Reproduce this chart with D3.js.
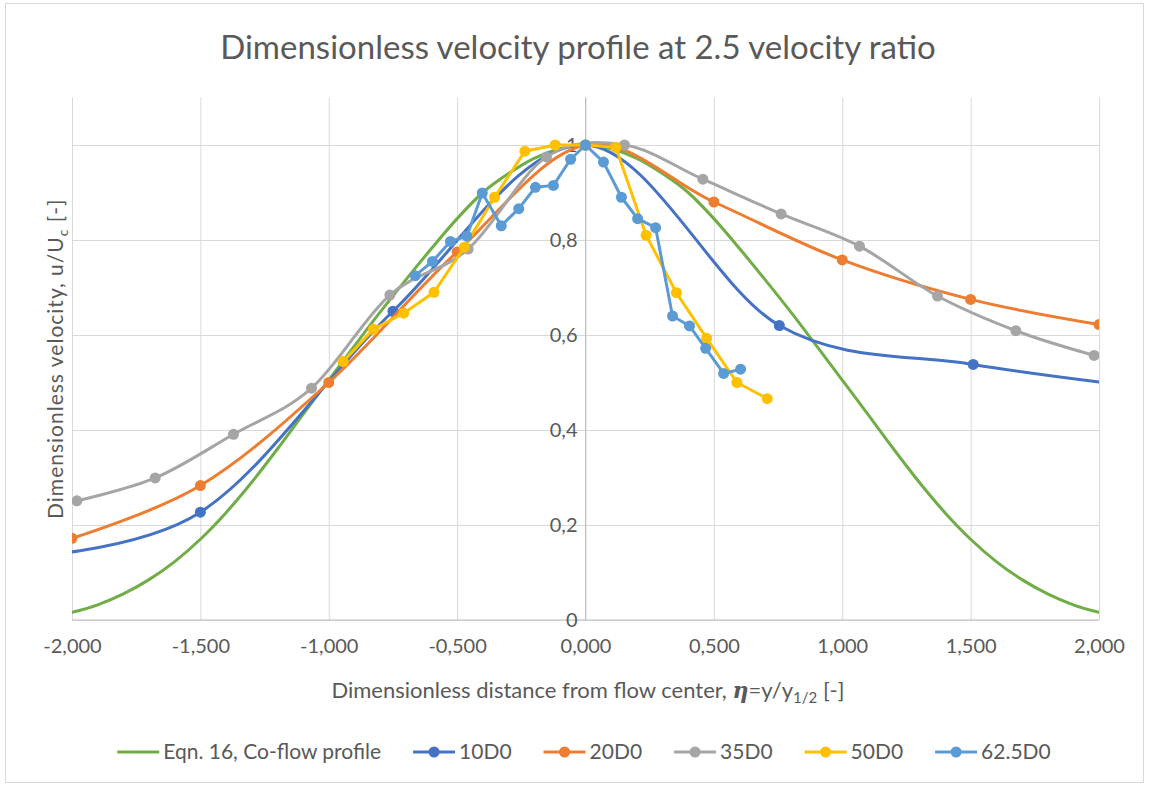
<!DOCTYPE html>
<html>
<head>
<meta charset="utf-8">
<script src="https://cdn.jsdelivr.net/npm/d3@7"></script>
<style>
  html, body { margin: 0; padding: 0; background: #fff; }
  svg text { font-family: Lato, "Open Sans", "Liberation Sans", sans-serif; fill: #595959; }
</style>
</head>
<body>
<svg id="chart" width="1149" height="788"></svg>
<script>
// Axis ticks
const xTicks = [-2, -1.5, -1, -0.5, 0, 0.5, 1, 1.5, 2];
const xTickLabels = ["-2,000", "-1,500", "-1,000", "-0,500", "0,000", "0,500", "1,000", "1,500", "2,000"];
const yTicks = [0, 0.2, 0.4, 0.6, 0.8, 1];
const yTickLabels = ["0", "0,2", "0,4", "0,6", "0,8", "1"];

// Eqn. 16, co-flow profile
const eqnX = [-2, -1.9, -1.8, -1.7, -1.6, -1.5, -1.4, -1.3, -1.2, -1.1, -1, -0.9, -0.8, -0.7, -0.6, -0.5, -0.4, -0.3, -0.2, -0.1, 0,
              0.1, 0.2, 0.3, 0.4, 0.5, 0.6, 0.7, 0.8, 0.9, 1, 1.1, 1.2, 1.3, 1.4, 1.5, 1.6, 1.7, 1.8, 1.9, 2];
const eqnY = [0.016, 0.032, 0.055, 0.085, 0.123, 0.17, 0.226, 0.29, 0.36, 0.433, 0.505, 0.577, 0.648, 0.716, 0.782, 0.845, 0.9, 0.94, 0.972, 0.992, 1,
              0.992, 0.972, 0.94, 0.9, 0.845, 0.782, 0.716, 0.648, 0.577, 0.505, 0.433, 0.36, 0.29, 0.226, 0.17, 0.123, 0.085, 0.055, 0.032, 0.016];

// Measured profiles
const d10X = [-2.25, -1.5, -0.75, 0, 0.755, 1.51, 2.25];
const d10Y = [0.13, 0.227, 0.65, 1, 0.62, 0.538, 0.485];

const d20X = [-2, -1.5, -1, -0.5, 0, 0.5, 1, 1.5, 2];
const d20Y = [0.172, 0.283, 0.5, 0.775, 1, 0.88, 0.758, 0.675, 0.622];

const d35X = [-1.981, -1.676, -1.371, -1.067, -0.762, -0.457, -0.152, 0.152, 0.457, 0.762, 1.067, 1.371, 1.676, 1.981];
const d35Y = [0.251, 0.299, 0.391, 0.488, 0.684, 0.781, 0.975, 1, 0.928, 0.855, 0.787, 0.682, 0.609, 0.557];

const d50X = [-0.944, -0.826, -0.708, -0.59, -0.472, -0.354, -0.236, -0.118, 0, 0.118, 0.236, 0.354, 0.472, 0.59, 0.708];
const d50Y = [0.544, 0.612, 0.646, 0.69, 0.785, 0.89, 0.987, 1, 1, 0.995, 0.81, 0.689, 0.593, 0.5, 0.466];

const d62X = [-0.663, -0.596, -0.526, -0.462, -0.402, -0.328, -0.26, -0.195, -0.125, -0.058, 0,
              0.07, 0.14, 0.203, 0.273, 0.339, 0.405, 0.468, 0.538, 0.604];
const d62Y = [0.725, 0.755, 0.797, 0.808, 0.899, 0.83, 0.866, 0.911, 0.915, 0.97, 1,
              0.964, 0.89, 0.845, 0.826, 0.64, 0.619, 0.572, 0.519, 0.528];

const seriesNames = ["Eqn. 16, Co-flow profile", "10D0", "20D0", "35D0", "50D0", "62.5D0"];
const seriesColors = ["#70AD47", "#4472C4", "#ED7D31", "#A5A5A5", "#FFC000", "#5B9BD5"];

const series = [
  { name: seriesNames[0], color: seriesColors[0], xs: eqnX, ys: eqnY, smooth: true, markers: false },
  { name: seriesNames[1], color: seriesColors[1], xs: d10X, ys: d10Y, smooth: true, markers: true },
  { name: seriesNames[2], color: seriesColors[2], xs: d20X, ys: d20Y, smooth: true, markers: true },
  { name: seriesNames[3], color: seriesColors[3], xs: d35X, ys: d35Y, smooth: true, markers: true },
  { name: seriesNames[4], color: seriesColors[4], xs: d50X, ys: d50Y, smooth: false, markers: true },
  { name: seriesNames[5], color: seriesColors[5], xs: d62X, ys: d62Y, smooth: false, markers: true }
];

const svg = d3.select("#chart");
const W = 1149, H = 788;
const plot = { left: 72, right: 1099, top: 97.5, bottom: 620 };
const lineW = 3, markerR = 5.5;

// Outer chart frame
svg.append("rect")
  .attr("x", 5.5).attr("y", 3.5).attr("width", W - 11).attr("height", H - 9)
  .attr("fill", "#fff").attr("stroke", "#d9d9d9").attr("stroke-width", 1);

const x = d3.scaleLinear().domain([-2, 2]).range([plot.left, plot.right]);
const y = d3.scaleLinear().domain([0, 1.1]).range([plot.bottom, plot.top]);

// Gridlines
const grid = svg.append("g").attr("class", "grid");
grid.append("g")
  .attr("transform", `translate(0,${plot.bottom})`)
  .call(d3.axisBottom(x).tickValues(xTicks).tickSize(-(plot.bottom - plot.top)).tickFormat(""))
  .call(g => g.select(".domain").remove())
  .call(g => g.selectAll("line").attr("stroke", "#d9d9d9").attr("stroke-width", 1));
grid.append("g")
  .attr("transform", `translate(${plot.left},0)`)
  .call(d3.axisLeft(y).tickValues(yTicks).tickSize(-(plot.right - plot.left)).tickFormat(""))
  .call(g => g.select(".domain").remove())
  .call(g => g.selectAll("line").attr("stroke", "#d9d9d9").attr("stroke-width", 1));

// Axis lines (vertical axis crosses at 0)
svg.append("line")
  .attr("x1", plot.left).attr("x2", plot.right)
  .attr("y1", y(0)).attr("y2", y(0))
  .attr("stroke", "#bfbfbf").attr("stroke-width", 1);
svg.append("line")
  .attr("x1", x(0)).attr("x2", x(0))
  .attr("y1", plot.top).attr("y2", y(0))
  .attr("stroke", "#bfbfbf").attr("stroke-width", 1);

// X tick labels along the bottom
const xAxis = svg.append("g")
  .attr("transform", `translate(0,${plot.bottom})`)
  .call(d3.axisBottom(x).tickValues(xTicks).tickSize(0).tickPadding(19)
    .tickFormat((d, i) => xTickLabels[i]));
xAxis.select(".domain").remove();
xAxis.selectAll("text").style("font-size", "20px").attr("fill", "#595959");

// Y tick labels next to the centre axis
const yAxis = svg.append("g")
  .attr("transform", `translate(${x(0)},0)`)
  .call(d3.axisLeft(y).tickValues(yTicks).tickSize(0).tickPadding(8)
    .tickFormat((d, i) => yTickLabels[i]));
yAxis.select(".domain").remove();
yAxis.selectAll("text").style("font-size", "20px").attr("fill", "#595959");

// Clip for data
svg.append("clipPath").attr("id", "plotClip")
  .append("rect")
  .attr("x", plot.left).attr("y", plot.top - 10)
  .attr("width", plot.right - plot.left).attr("height", plot.bottom - plot.top + 10);

const dataG = svg.append("g").attr("clip-path", "url(#plotClip)");

series.forEach(s => {
  const pts = s.xs.map((v, i) => [v, s.ys[i]]);
  const line = d3.line()
    .x(d => x(d[0])).y(d => y(d[1]))
    .curve(s.smooth ? d3.curveCardinal.tension(0) : d3.curveLinear);
  const g = dataG.append("g");
  g.append("path")
    .attr("d", line(pts))
    .attr("fill", "none")
    .attr("stroke", s.color)
    .attr("stroke-width", lineW)
    .attr("stroke-linejoin", "round")
    .attr("stroke-linecap", "round");
  if (s.markers) {
    g.selectAll("circle").data(pts).join("circle")
      .attr("cx", d => x(d[0])).attr("cy", d => y(d[1]))
      .attr("r", markerR)
      .attr("fill", s.color);
  }
});

// Title
svg.append("text")
  .attr("x", 578).attr("y", 59)
  .attr("text-anchor", "middle")
  .style("font-size", "33px")
  .text("Dimensionless velocity profile at 2.5 velocity ratio");

// X axis title
const xt = svg.append("text")
  .attr("x", 588).attr("y", 698)
  .attr("text-anchor", "middle")
  .style("font-size", "22px");
xt.append("tspan").text("Dimensionless distance from flow center, ");
xt.append("tspan").text("η")
  .style("font-family", "'DejaVu Serif', 'Liberation Serif', serif")
  .style("font-weight", "bold").style("font-style", "italic");
xt.append("tspan").text("=y/y");
xt.append("tspan").text("1/2").attr("dy", 5).style("font-size", "15px");
xt.append("tspan").text(" [-]").attr("dy", -5);

// Y axis title
const yt = svg.append("text")
  .attr("transform", `translate(63,${(plot.top + plot.bottom) / 2}) rotate(-90)`)
  .attr("text-anchor", "middle")
  .style("font-size", "21px")
  .style("letter-spacing", "1px");
yt.append("tspan").text("Dimensionless velocity, u/U");
yt.append("tspan").text("c").attr("dy", 5).style("font-size", "14px");
yt.append("tspan").text(" [-]").attr("dy", -5);

// Legend
const legend = svg.append("g");
const legendY = 752;
const lineLen = 42, gapText = 4, gapItem = 32;
const items = series.map(s => {
  const g = legend.append("g");
  g.append("line")
    .attr("x1", 0).attr("x2", lineLen).attr("y1", 0).attr("y2", 0)
    .attr("stroke", s.color).attr("stroke-width", lineW);
  if (s.markers) {
    g.append("circle").attr("cx", lineLen / 2).attr("cy", 0).attr("r", markerR).attr("fill", s.color);
  }
  const t = g.append("text")
    .attr("x", lineLen + gapText).attr("y", 0).attr("dy", "0.35em")
    .style("font-size", "21px")
    .text(s.name);
  const w = lineLen + gapText + t.node().getComputedTextLength();
  return { g, w };
});
const total = d3.sum(items, d => d.w) + gapItem * (items.length - 1);
let cx = 584 - total / 2;
items.forEach(it => {
  it.g.attr("transform", `translate(${cx},${legendY})`);
  cx += it.w + gapItem;
});
</script>
</body>
</html>
